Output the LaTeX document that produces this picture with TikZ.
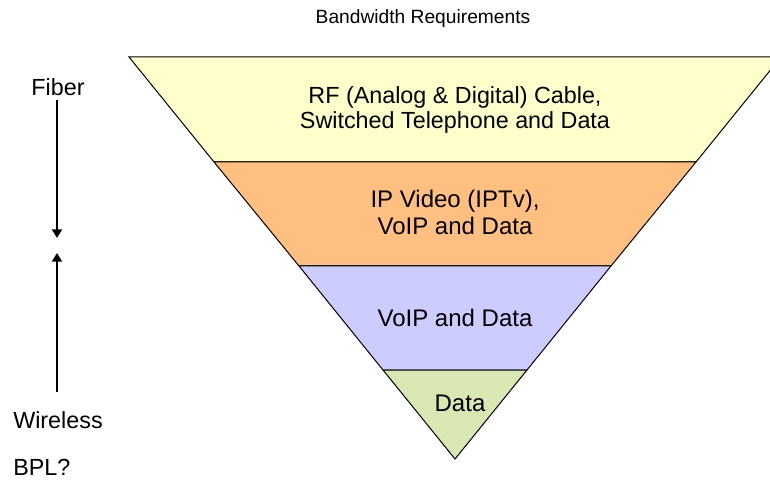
\documentclass[tikz,border=0pt]{standalone}
\usepackage{fontspec}
\setmainfont{Liberation Sans}
\usetikzlibrary{arrows.meta}
\usepackage{xcolor}

\begin{document}
\begin{tikzpicture}[x=0.75pt,y=0.75pt,yscale=-1,xscale=1]
%set diagram to the size of the page
\useasboundingbox (0,0) rectangle (770,484);
\clip (0,0) rectangle (770,484);

%Shape: Band [id:yellow]
\draw [fill={rgb, 255:red, 255; green, 255; blue, 204 }, line width=0.75] (129,57) -- (781,57) -- (696,162) -- (214,162) -- cycle ;
%Shape: Band [id:orange]
\draw [fill={rgb, 255:red, 255; green, 191; blue, 128 }, line width=0.75] (214,162) -- (696,162) -- (611,266) -- (299,266) -- cycle ;
%Shape: Band [id:blue]
\draw [fill={rgb, 255:red, 204; green, 204; blue, 255 }, line width=0.75] (299,266) -- (611,266) -- (527,370) -- (383,370) -- cycle ;
%Shape: Band [id:green]
\draw [fill={rgb, 255:red, 217; green, 232; blue, 179 }, line width=0.75] (383,370) -- (527,370) -- (455,459) -- cycle ;

% Text Node
\node (title) at (423,19) [inner sep=0.75pt, font=\fontsize{14.4}{17}\selectfont] {Bandwidth Requirements};
% Text Node
\node (rf) at (455,110) [inner sep=0.75pt, align=center, font=\fontsize{17.5}{18.75}\selectfont] {RF (Analog \& Digital) Cable,\\ Switched Telephone and Data};
% Text Node
\node (ip) at (455,212) [inner sep=0.75pt, align=center, font=\fontsize{18}{20.25}\selectfont] {IP Video (IPTv),\\ VoIP and Data};
% Text Node
\node (voip) at (455,318) [inner sep=0.75pt, font=\fontsize{18}{21}\selectfont] {VoIP and Data};
% Text Node
\node (data) at (460,403) [inner sep=0.75pt, font=\fontsize{18}{21}\selectfont] {Data};
% Text Node
\node (fiber) at (58,87) [inner sep=0.75pt, font=\fontsize{17.5}{20}\selectfont] {Fiber};
% Text Node
\node (wireless) at (12,420) [anchor=west, inner sep=0.75pt, font=\fontsize{17.5}{20}\selectfont] {Wireless};
% Text Node
\node (bpl) at (12,467) [anchor=west, inner sep=0.75pt, font=\fontsize{17.5}{20}\selectfont] {BPL?};

%Straight Lines [id:fiberarrow]
\coordinate (fiberend) at (57,238);
\draw [line width=1.5, -{Triangle[width=7.5pt,length=6.5pt]}] (57,100) -- (fiberend) ;
%Straight Lines [id:wirelessarrow]
\coordinate (wirelessend) at (57,253);
\draw [line width=1.5, -{Triangle[width=7.5pt,length=6.5pt]}] (57,392) -- (wirelessend) ;

\end{tikzpicture}
\end{document}
